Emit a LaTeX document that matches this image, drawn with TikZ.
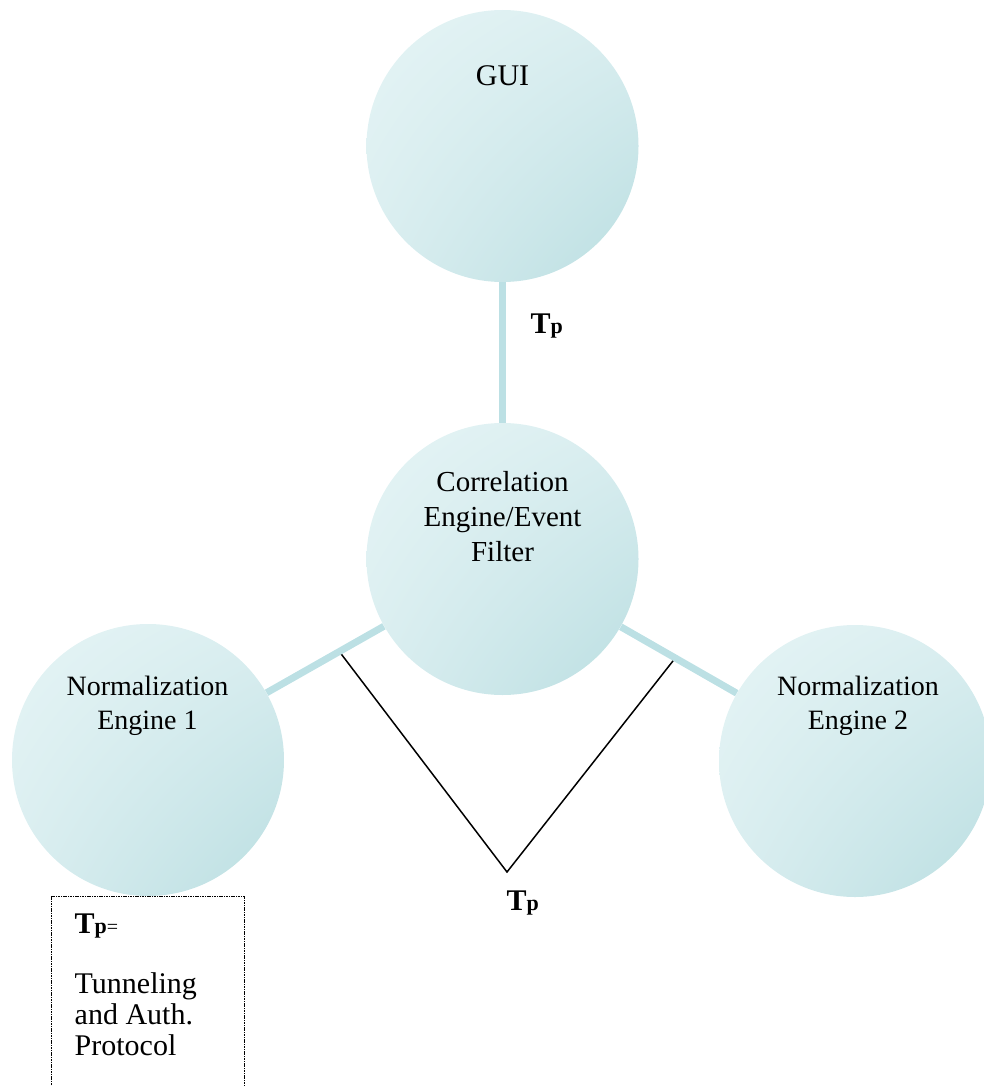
\documentclass[tikz,border=0pt]{standalone}
\usepackage{fontspec}
\setmainfont{Liberation Serif}
\usetikzlibrary{shadings}
\definecolor{mypalecyan}{RGB}{229,244,245}
\definecolor{mymidcyan}{RGB}{218,238,240}
\definecolor{mydeepcyan}{RGB}{186,222,225}
\definecolor{mylinkcyan}{RGB}{188,224,228}
\tikzset{every picture/.style={line width=0.75pt}}
\newcommand{\tpsym}{\textbf{T{\fontsize{22}{22}\selectfont p}}}

\begin{document}
\begin{tikzpicture}[x=1pt,y=1pt,yscale=-1,xscale=1,
  blob/.style={circle,minimum size=272pt,inner sep=0pt,
    upper left=mypalecyan,upper right=mymidcyan,
    lower left=mymidcyan,lower right=mydeepcyan},
  link/.style={color=mylinkcyan,line width=7pt},
  blobtext/.style={font=\fontsize{28}{34}\selectfont,align=center,anchor=base},
  tptext/.style={font=\fontsize{30}{30}\selectfont,anchor=base west}]
\useasboundingbox (0,0) rectangle (984,1086);
\clip (0,0) rectangle (984,1086);

%Shape: Circle
\node[blob] (gui) at (502.5,146) {};
%Shape: Circle
\node[blob] (core) at (502.5,559) {};
%Shape: Circle
\node[blob] (ne1) at (148,760) {};
%Shape: Circle
\node[blob] (ne2) at (855,761) {};

%Straight Lines
\path (ne1) -- (core) coordinate[pos=0.62] (lj);
\path (core) -- (ne2) coordinate[pos=0.47] (rj);
\coordinate (apex) at (507,872);
\draw[line width=1.5pt] (lj) -- (apex) -- (rj);

%Straight Lines
\draw[link] (gui) -- (core);
\draw[link] (ne1) -- (core);
\draw[link] (core) -- (ne2);

% Text Node
\node[blobtext,font=\fontsize{30}{34}\selectfont] (guitext) at (502.5,86) {GUI};
% Text Node
\node[blobtext,font=\fontsize{29}{35}\selectfont] (coretext) at (502.5,561) {Correlation\\Engine/Event\\Filter};
% Text Node
\node[blobtext] (ne1text) at (147.5,729) {Normalization\\Engine 1};
% Text Node
\node[blobtext] (ne2text) at (858,729) {Normalization\\Engine 2};

% Text Node
\node[tptext] (tpgui) at (527,333) {\tpsym};
% Text Node
\node[tptext] (tpnorm) at (503,910) {\tpsym};

%Shape: Rectangle
\node[draw,dash pattern=on 1.6pt off 0.8pt,line width=1.4pt,anchor=north west,
  minimum width=193pt,minimum height=210pt,inner sep=0pt] (legend) at (51,896) {};
% Text Node
\node[tptext] (legendtp) at (71,933) {\tpsym{\fontsize{20}{20}\selectfont=}};
% Text Node
\node[tptext,align=left,font=\fontsize{30}{31}\selectfont] (legendtext) at (71,1055) {Tunneling\\and Auth.\\Protocol};

\end{tikzpicture}
\end{document}
